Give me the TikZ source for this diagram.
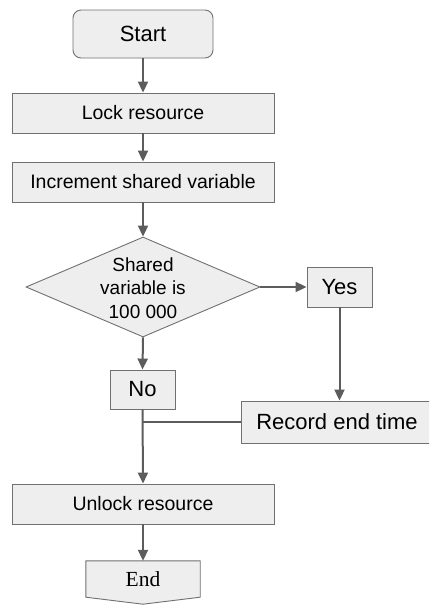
\documentclass[tikz,border=0pt]{standalone}
\usepackage{fontspec}
\setmainfont{Liberation Sans}
\newfontfamily\endfont{Liberation Serif}
\usetikzlibrary{shapes.geometric,arrows.meta,calc}
\definecolor{boxfill}{HTML}{EEEEEE}
\definecolor{boxline}{HTML}{707070}
\definecolor{flow}{HTML}{5C5C5C}
\begin{document}
\begin{tikzpicture}[x=1pt,y=-1pt,
  box/.style={draw=boxline,fill=boxfill,line width=0.9pt,inner sep=0pt,
    font=\fontsize{19.5}{23}\selectfont},
  bigbox/.style={box,font=\fontsize{22}{26}\selectfont},
  flowline/.style={draw=flow,line width=2pt},
  flowarrow/.style={flowline,-{Triangle[length=11pt,width=10pt]}}]
\useasboundingbox (0,0) rectangle (429,605);
\clip (0,0) rectangle (429,605);

% process steps
\node[bigbox,rounded corners=8pt,minimum width=140pt,minimum height=48pt] (start) at (143,34) {Start};
\node[box,minimum width=262pt,minimum height=40pt] (lock) at (143,113) {Lock resource};
\node[box,minimum width=262pt,minimum height=40pt] (inc) at (143,182) {Increment shared variable};

% decision
\node[draw=boxline,fill=boxfill,line width=0.9pt,diamond,inner sep=0pt,
  minimum width=234pt,minimum height=100pt,
  label={[font=\fontsize{19}{23.3}\selectfont,align=center,yshift=-1pt]center:Shared\\variable is\\100 000}] (dec) at (143,287) {};

\node[bigbox,minimum width=65pt,minimum height=40pt] (yes) at (339.5,287) {Yes};
\node[bigbox,minimum width=65pt,minimum height=39pt] (no) at (142.5,389.5) {No};
\node[bigbox,minimum width=192pt,minimum height=42pt] (rec) at (337,422) {Record end time};
\node[box,minimum width=262pt,minimum height=40pt] (unlock) at (143,504) {Unlock resource};

% terminal (off-page connector outline)
\node[inner sep=0pt,minimum width=114pt,minimum height=36pt,
  font=\endfont\fontsize{21.5}{25}\selectfont] (end) at (143,579) {};
\draw[draw=boxline,fill=boxfill,line width=0.9pt]
  (end.north west) -- (end.north east) -- (end.south east)
  -- ($(end.south)+(0,7)$) -- (end.south west) -- cycle;
\node[font=\endfont\fontsize{21.5}{25}\selectfont,inner sep=0pt] (endtext) at (end.center) {End};

% connectors
\draw[flowarrow] (start.south) -- (lock.north);
\draw[flowarrow] (lock.south) -- (inc.north);
\draw[flowarrow] (inc.south) -- (dec.north);
\draw[flowarrow] (dec.east) -- (yes.west);
\draw[flowarrow] (dec.south) -- (no.north);
\draw[flowarrow] (yes.south) -- (yes.south |- rec.north);
\coordinate (join) at (no.south |- rec.west);
\draw[flowline] (rec.west) -- (join);
\draw[flowarrow] (no.south) -- (unlock.north);
\draw[flowarrow] (unlock.south) -- (end.north);
\end{tikzpicture}
\end{document}
